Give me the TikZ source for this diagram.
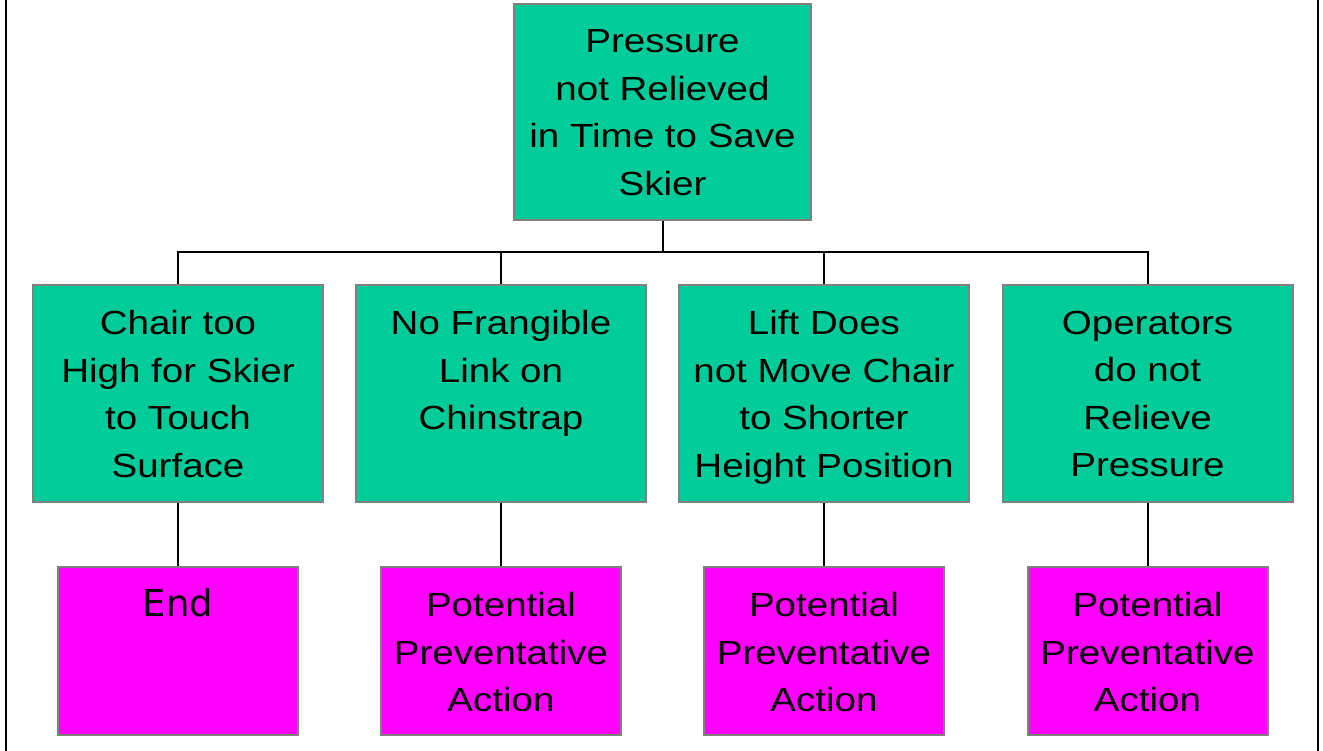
\documentclass[tikz,border=0pt]{standalone}
\usepackage{fontspec}
\setmainfont{Liberation Sans}[FakeStretch=1.15]
\newfontfamily\endfont{DejaVu Sans}
\definecolor{boxgreen}{RGB}{0,204,153}
\definecolor{boxmag}{RGB}{255,0,255}
\definecolor{edgegray}{RGB}{128,128,128}
\tikzset{
  gbox/.style={draw=edgegray, line width=2pt, fill=boxgreen, inner sep=0pt},
  topbox/.style={gbox, minimum width=297pt, minimum height=216pt},
  midbox/.style={gbox, minimum width=290pt, minimum height=217pt},
  lowbox/.style={draw=edgegray, line width=2pt, fill=boxmag, inner sep=0pt, minimum width=240pt, minimum height=168pt},
  txt/.style={font=\fontsize{33.5}{47.5}\selectfont, align=center, inner sep=0pt, anchor=north, text=black},
  link/.style={draw=black, line width=2pt},
  frame/.style={draw=black, line width=2pt}
}
\begin{document}
\begin{tikzpicture}[x=1pt,y=-1pt]
\useasboundingbox (0,0) rectangle (1323,751);
\fill[white] (0,0) rectangle (1323,751);
\draw[frame] (6,0) -- (6,751);
\draw[frame] (1318,0) -- (1318,751);
% top
\node[topbox] (top) at (662.5,112) {};
\node[txt] (toptxt) at (662.5,29.5) {Pressure\\not Relieved\\in Time to Save\\Skier};
% middle
\node[midbox] (c1) at (178,393.5) {};
\node[midbox] (c2) at (501,393.5) {};
\node[midbox] (c3) at (824,393.5) {};
\node[midbox] (c4) at (1147.5,393.5) {};
\node[txt] (t1) at (178,310.5) {Chair too\\High for Skier\\to Touch\\Surface};
\node[txt] (t2) at (501,310.5) {No Frangible\\Link on\\Chinstrap};
\node[txt] (t3) at (824,310.5) {Lift Does\\not Move Chair\\to Shorter\\Height Position};
\node[txt] (t4) at (1147.5,310.5) {Operators\\do not\\Relieve\\Pressure};
% bottom
\node[lowbox] (p1) at (178,651) {};
\node[lowbox] (p2) at (501,651) {};
\node[lowbox] (p3) at (824,651) {};
\node[lowbox] (p4) at (1147.5,651) {};
\node[font=\endfont\fontsize{37}{44}\selectfont, inner sep=0pt, anchor=base] (e1) at (178,616.7) {End};
\node[txt] (u2) at (501,592.5) {Potential\\Preventative\\Action};
\node[txt] (u3) at (824,592.5) {Potential\\Preventative\\Action};
\node[txt] (u4) at (1147.5,592.5) {Potential\\Preventative\\Action};
% connectors
\coordinate (bus) at (662.5,252);
\draw[link] (top.south) -- (bus);
\draw[link] (c1.north) |- (bus);
\draw[link] (c2.north) |- (bus);
\draw[link] (c3.north) |- (bus);
\draw[link] (c4.north) |- (bus);
\draw[link] (c1.south) -- (p1.north);
\draw[link] (c2.south) -- (p2.north);
\draw[link] (c3.south) -- (p3.north);
\draw[link] (c4.south) -- (p4.north);
\end{tikzpicture}
\end{document}
